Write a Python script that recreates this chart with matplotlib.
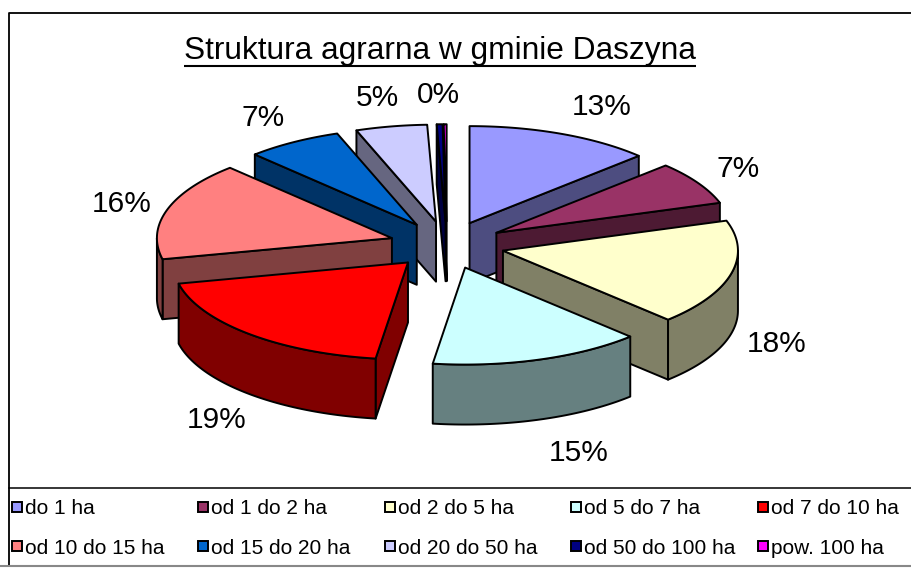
import matplotlib
matplotlib.use("Agg")
import matplotlib.pyplot as plt
import numpy as np
from matplotlib.colors import to_rgb
from matplotlib.patches import Polygon, Rectangle

# data (share of farms, %)
categories = ["do 1 ha", "od 1 do 2 ha", "od 2 do 5 ha", "od 5 do 7 ha", "od 7 do 10 ha",
              "od 10 do 15 ha", "od 15 do 20 ha", "od 20 do 50 ha", "od 50 do 100 ha", "pow. 100 ha"]
shares = [12.8, 7.2, 17.6, 14.6, 19.3, 16.4, 6.6, 4.9, 0.4, 0.2]
colors = ["#9999FF", "#993366", "#FFFFCC", "#CCFFFF", "#FF0000",
          "#FF8080", "#0066CC", "#CCCCFF", "#000080", "#FF00FF"]
title = "Struktura agrarna w gminie Daszyna"

# pie geometry (pixels)
CX, CY = 447, 245
RX, RY = 235, 97
DEPTH = 60
EXPLODE = 0.245
LW = 1.4
KX, KY = 1.2, 1.33
label_nudge = [22, 0, 0, 25, 0, 0, -6, -5, 0, 0]

plt.rcParams["font.family"] = ["Liberation Sans", "DejaVu Sans"]

fig = plt.figure(figsize=(9.12, 5.72), dpi=100)
ax = fig.add_axes([0, 0, 1, 1])
ax.set_xlim(0, 912)
ax.set_ylim(572, 0)
ax.axis("off")


def ell(theta, ox, oy, r=1.0):
    t = np.radians(np.atleast_1d(theta))
    return np.column_stack([ox + RX * r * np.sin(t), oy - RY * r * np.cos(t)])


def shade(c):
    return tuple(v * 0.5 for v in to_rgb(c))


frac = np.array(shares) / sum(shares)
ends = np.cumsum(frac) * 360
starts = ends - frac * 360
mids = (starts + ends) / 2

# back slices first
order = sorted(range(len(shares)), key=lambda i: -np.cos(np.radians(mids[i])))
down = np.array([0, DEPTH])

for i in order:
    t1, t2, m = starts[i], ends[i], mids[i]
    ox = CX + EXPLODE * RX * np.sin(np.radians(m))
    oy = CY - EXPLODE * RY * np.cos(np.radians(m))
    apex = np.array([ox, oy])
    faces = []
    if np.sin(np.radians(t2)) > 1e-6:
        p = ell(t2, ox, oy)[0]
        faces.append(np.array([apex, p, p + down, apex + down]))
    if np.sin(np.radians(t1)) < -1e-6:
        p = ell(t1, ox, oy)[0]
        faces.append(np.array([apex, p, p + down, apex + down]))
    lo, hi = max(t1, 90), min(t2, 270)
    if hi > lo:
        arc = ell(np.linspace(lo, hi, 60), ox, oy)
        faces.append(np.vstack([arc, arc[::-1] + down]))
    for f in faces:
        ax.add_patch(Polygon(f, closed=True, fc=shade(colors[i]), ec="black", lw=LW, joinstyle="round"))
    top = np.vstack([apex, ell(np.linspace(t1, t2, 100), ox, oy)])
    ax.add_patch(Polygon(top, closed=True, fc=colors[i], ec="black", lw=LW, joinstyle="round"))

# percentage labels (labels landing on the same spot are drawn once)
placed = []
for i, v in enumerate(shares):
    m = np.radians(mids[i])
    ox = CX + EXPLODE * RX * np.sin(m)
    oy = CY - EXPLODE * RY * np.cos(m)
    x = ox + KX * RX * np.sin(m) + label_nudge[i]
    y = oy - KY * RY * np.cos(m) + (DEPTH if np.cos(m) < 0 else 0)
    txt = f"{round(v):.0f}%"
    if any(abs(x - px) < 10 and abs(y - py) < 10 and txt == pt for px, py, pt in placed):
        continue
    placed.append((x, y, txt))
    ax.text(x, y, txt, ha="center", va="center_baseline", fontsize=21.5)

# title with underline
t = ax.text(440, 59, title, ha="center", va="baseline", fontsize=22.8)
fig.canvas.draw()
bb = t.get_window_extent().transformed(ax.transData.inverted())
ax.plot([bb.x0, bb.x1], [66, 66], color="black", lw=1.5, solid_capstyle="butt")

# legend, Excel style grid
col_x0, col_w = 12, 186.5
row_y = [507, 546]
for i, name in enumerate(categories):
    x = col_x0 + (i % 5) * col_w
    y = row_y[i // 5]
    ax.add_patch(Rectangle((x, y - 5), 10, 10, fc=colors[i], ec="black", lw=1.4))
    ax.text(x + 13, y, name, ha="left", va="center_baseline", fontsize=15)

# chart frame
ax.plot([9, 9, 912], [566, 13, 13], color="black", lw=1.3)
ax.plot([9, 912], [488, 488], color="black", lw=1.1)
ax.plot([0, 912], [566, 566], color="#888888", lw=1.5)

fig.savefig("out.png", dpi=100)
